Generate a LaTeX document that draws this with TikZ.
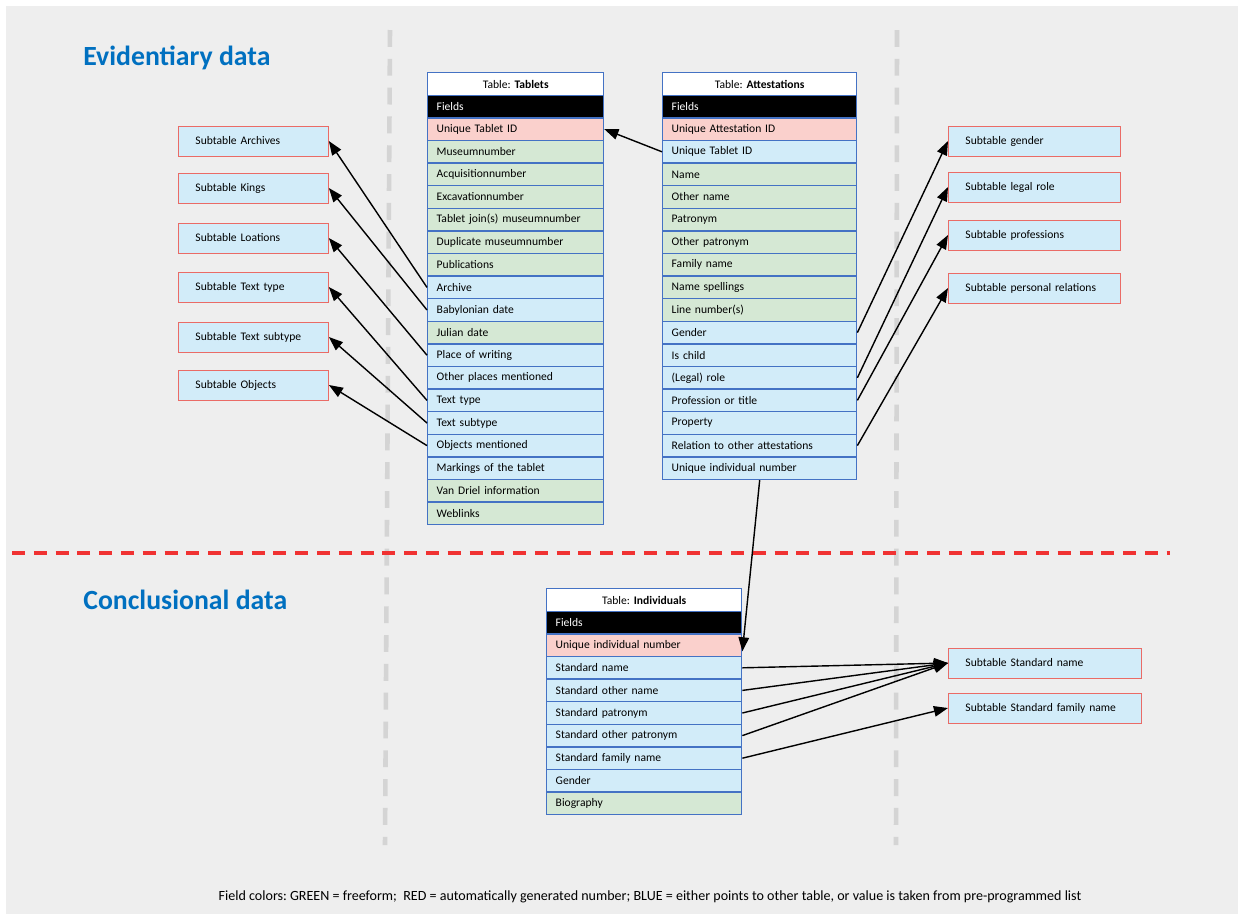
\documentclass[tikz,border=0pt]{standalone}
\usepackage{fontspec}
\setmainfont{Carlito}
\usetikzlibrary{arrows.meta,positioning}
\frenchspacing

\definecolor{fieldred}{RGB}{250,208,204}
\definecolor{fieldgreen}{RGB}{213,232,212}
\definecolor{fieldblue}{RGB}{210,236,249}
\definecolor{tableline}{RGB}{68,114,196}
\definecolor{subline}{RGB}{234,107,102}
\definecolor{titleblue}{RGB}{0,112,192}
\definecolor{bggrey}{RGB}{238,238,238}
\definecolor{dashgrey}{RGB}{212,212,212}
\definecolor{dashred}{RGB}{240,50,50}

\tikzset{
  tabrow/.style={rectangle, draw=tableline, line width=0.8pt, anchor=north west,
    text width=#1, align=left, inner xsep=0.18cm, inner ysep=0pt,
    minimum height=0.452cm, font=\fontsize{6.6}{7}\selectfont},
  tabhead/.style={tabrow=#1, fill=white, align=center},
  tabfields/.style={tabrow=#1, fill=black, text=white},
  subbox/.style={rectangle, draw=subline, line width=0.5pt, fill=fieldblue, anchor=west,
    text width=#1, align=left, inner xsep=0.34cm, inner ysep=0pt,
    minimum height=0.6cm, font=\fontsize{6.6}{7}\selectfont},
  link/.style={-{Triangle[length=8pt,width=6pt]}, line width=0.8pt},
  areatitle/.style={anchor=west, inner sep=0pt, text=titleblue,
    font=\fontsize{15.8}{18}\selectfont\bfseries}
}

\begin{document}
\begin{tikzpicture}[x=0.02cm, y=-0.02cm]
    \useasboundingbox (0,0) rectangle (1238,914);
    \fill[bggrey] (6,6) rectangle (1238,914);

    % separators
    \draw[dashgrey, line width=2.6pt, dash pattern=on 9.6pt off 6.8pt] (390,30) -- (385,845);
    \draw[dashgrey, line width=2.6pt, dash pattern=on 9.6pt off 6.8pt] (897,30) -- (896,845);
    \draw[dashred, line width=2.8pt, dash pattern=on 7.4pt off 5pt] (12,553) -- (1170,553);

    \node[areatitle] (evid) at (83,58) {Evidentiary data};
    \node[areatitle] (concl) at (83,600) {Conclusional data};

    % table: tablets
    \node[tabhead=3.16cm] (tab-0) at (427,72) {Table: \textbf{Tablets}};
    \node[tabfields=3.16cm] (tab-1) at (427,94.6) {Fields};
    \foreach [count=\i from 2] \c/\t in {fieldred/Unique Tablet ID, fieldgreen/Museumnumber,
        fieldgreen/Acquisitionnumber, fieldgreen/Excavationnumber,
        fieldgreen/Tablet join(s) museumnumber, fieldgreen/Duplicate museumnumber,
        fieldgreen/Publications, fieldblue/Archive, fieldblue/Babylonian date,
        fieldgreen/Julian date, fieldblue/Place of writing, fieldblue/Other places mentioned,
        fieldblue/Text type, fieldblue/Text subtype, fieldblue/Objects mentioned,
        fieldblue/Markings of the tablet, fieldgreen/Van Driel information, fieldgreen/Weblinks}
        \node[tabrow=3.16cm, fill=\c] (tab-\i) at (427,{72+\i*22.6}) {\t};

    % table: attestations
    \node[tabhead=3.52cm] (att-0) at (662,72) {Table: \textbf{Attestations}};
    \node[tabfields=3.52cm] (att-1) at (662,94.6) {Fields};
    \foreach [count=\i from 2] \c/\t in {fieldred/Unique Attestation ID, fieldblue/Unique Tablet ID,
        fieldgreen/Name, fieldgreen/Other name, fieldgreen/Patronym, fieldgreen/Other patronym,
        fieldgreen/Family name, fieldgreen/Name spellings, fieldgreen/Line number(s),
        fieldblue/Gender, fieldblue/Is child, fieldblue/(Legal) role,
        fieldblue/Profession or title, fieldblue/Property,
        fieldblue/Relation to other attestations, fieldblue/Unique individual number}
        \node[tabrow=3.52cm, fill=\c] (att-\i) at (662,{72+\i*22.6}) {\t};

    % table: individuals
    \node[tabhead=3.54cm] (ind-0) at (546,588) {Table: \textbf{Individuals}};
    \node[tabfields=3.54cm] (ind-1) at (546,610.6) {Fields};
    \foreach [count=\i from 2] \c/\t in {fieldred/Unique individual number,
        fieldblue/Standard name, fieldblue/Standard other name, fieldblue/Standard patronym,
        fieldblue/Standard other patronym, fieldblue/Standard family name,
        fieldblue/Gender, fieldgreen/Biography}
        \node[tabrow=3.54cm, fill=\c] (ind-\i) at (546,{588+\i*22.6}) {\t};

    % subtables
    \node[subbox=2.32cm] (subArchives) at (178,141) {Subtable Archives};
    \node[subbox=2.32cm] (subKings) at (178,188) {Subtable Kings};
    \node[subbox=2.32cm] (subLocations) at (178,238) {Subtable Loations};
    \node[subbox=2.32cm] (subTexttype) at (178,287) {Subtable Text type};
    \node[subbox=2.32cm] (subTextsubtype) at (178,337) {Subtable Text subtype};
    \node[subbox=2.32cm] (subObjects) at (178,385) {Subtable Objects};

    \node[subbox=2.76cm] (subGender) at (948,141) {Subtable gender};
    \node[subbox=2.76cm] (subRole) at (948,187) {Subtable legal role};
    \node[subbox=2.76cm] (subProfessions) at (948,235) {Subtable professions};
    \node[subbox=2.76cm] (subRelations) at (948,288) {Subtable personal relations};

    \node[subbox=3.18cm] (subStdName) at (948,663) {Subtable Standard name};
    \node[subbox=3.18cm] (subStdFamily) at (948,708) {Subtable Standard family name};

    % links
    \draw[link] (tab-9.west) -- (subArchives.east);
    \draw[link] (tab-10.west) -- (subKings.east);
    \draw[link] (tab-12.west) -- (subLocations.east);
    \draw[link] (tab-14.west) -- (subTexttype.east);
    \draw[link] (tab-15.west) -- (subTextsubtype.east);
    \draw[link] (tab-16.west) -- (subObjects.east);

    \draw[link] (att-3.west) -- (tab-2.east);
    \draw[link] (att-11.east) -- (subGender.west);
    \draw[link] (att-13.east) -- (subRole.west);
    \draw[link] (att-14.east) -- (subProfessions.west);
    \draw[link] (att-16.east) -- (subRelations.west);
    \draw[link] (att-17.south) -- ([yshift=-3.5pt]ind-2.east);

    \draw[link] (ind-3.east) -- (subStdName.west);
    \draw[link] (ind-4.east) -- (subStdName.west);
    \draw[link] (ind-5.east) -- (subStdName.west);
    \draw[link] (ind-6.east) -- (subStdName.west);
    \draw[link] (ind-7.east) -- (subStdFamily.west);

    \node[font=\fontsize{8}{9}\selectfont] (legend) at (650,897) {Field colors: GREEN = freeform;\ \ RED = automatically generated number; BLUE = either points to other table, or value is taken from pre-programmed list};
\end{tikzpicture}
\end{document}
